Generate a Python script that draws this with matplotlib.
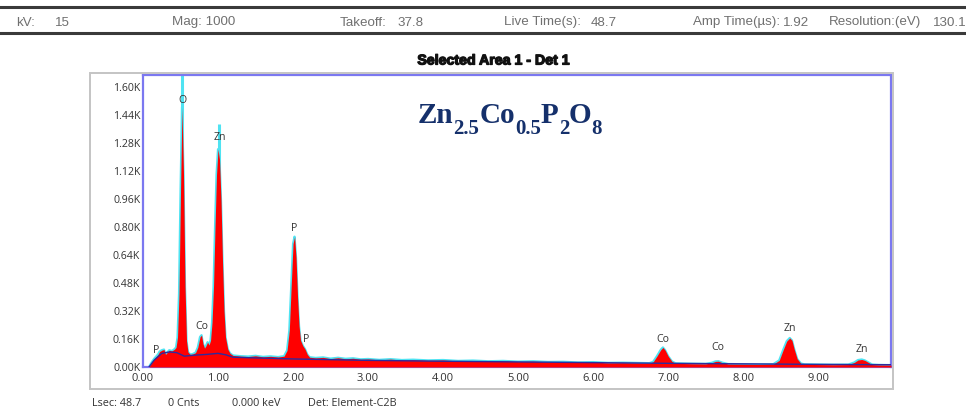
import matplotlib
matplotlib.use("Agg")
import matplotlib.pyplot as plt
from matplotlib.patches import Rectangle
from matplotlib.lines import Line2D
import matplotlib.patheffects as pe

# ---- spectrum (energy in keV, counts) ----
energy = [0.08, 0.10, 0.12, 0.15, 0.18, 0.20, 0.22, 0.25, 0.28, 0.30, 0.32, 0.35, 0.38,
          0.40, 0.42, 0.44, 0.46, 0.48, 0.50, 0.52, 0.54, 0.56, 0.58, 0.60, 0.63, 0.66,
          0.70, 0.73, 0.76, 0.78, 0.80, 0.82, 0.84, 0.86, 0.88, 0.90, 0.92, 0.94, 0.96,
          0.98, 1.00, 1.02, 1.04, 1.06, 1.08, 1.10, 1.13, 1.16, 1.20, 1.30, 1.40, 1.50,
          1.60, 1.70, 1.80, 1.88, 1.92, 1.95, 1.98, 2.00, 2.02, 2.04, 2.06, 2.08, 2.10,
          2.13, 2.16, 2.19, 2.22, 2.30, 2.40, 2.50, 2.60, 2.70, 2.80, 2.90, 3.00, 3.15,
          3.30, 3.45, 3.60, 3.80, 4.00, 4.20, 4.40, 4.60, 4.80, 5.00, 5.20, 5.40, 5.60,
          5.80, 6.00, 6.20, 6.40, 6.60, 6.75, 6.80, 6.85, 6.90, 6.93, 6.96, 7.00, 7.05,
          7.10, 7.30, 7.50, 7.58, 7.63, 7.67, 7.72, 7.80, 8.00, 8.20, 8.40, 8.48, 8.53,
          8.58, 8.62, 8.65, 8.68, 8.72, 8.77, 8.82, 9.00, 9.20, 9.40, 9.48, 9.53, 9.58,
          9.62, 9.67, 9.72, 9.80, 9.97]
counts = [0, 15, 30, 48, 62, 72, 88, 96, 100, 72, 82, 96, 92,
          96, 102, 112, 170, 420, 1000, 1485, 1100, 460, 150, 85, 72, 74,
          82, 112, 172, 182, 132, 108, 122, 142, 126, 152, 255, 460, 800,
          1100, 1245, 1185, 950, 600, 320, 170, 102, 78, 66, 62, 60, 64,
          58, 61, 57, 62, 95, 210, 510, 705, 745, 625, 400, 235, 152,
          122, 102, 72, 56, 52, 55, 48, 53, 47, 50, 44, 46, 41,
          45, 40, 42, 38, 40, 35, 37, 33, 35, 31, 33, 29, 30,
          26, 28, 24, 25, 23, 22, 30, 62, 98, 112, 96, 62, 32,
          21, 19, 18, 24, 32, 33, 25, 17, 16, 15, 16, 38, 95,
          148, 166, 152, 102, 46, 20, 15, 14, 13, 14, 26, 40, 43,
          38, 26, 14, 12, 11]

# continuum fit
bkg_energy = [0.08, 0.15, 0.25, 0.35, 0.45, 0.55, 0.70, 0.85, 1.00, 1.10, 1.20, 1.50,
              2.00, 2.50, 3.00, 4.00, 5.00, 6.00, 7.00, 8.00, 9.00, 9.97]
bkg_counts = [0, 40, 78, 86, 82, 62, 68, 72, 78, 70, 56, 52,
              46, 42, 38, 33, 29, 25, 21, 18, 15, 13]

# peak markers rising above the measured peak
marker_energy = [0.525, 1.012]
marker_top = [1700, 1390]

# element labels (keV, counts)
label_text = ["P", "O", "Co", "Zn", "P", "P", "Co", "Co", "Zn", "Zn"]
label_x = [0.17, 0.52, 0.78, 1.02, 2.01, 2.18, 6.93, 7.66, 8.62, 9.58]
label_y = [95, 1525, 230, 1310, 790, 160, 160, 110, 220, 100]

yticks = [0, 160, 320, 480, 640, 800, 960, 1120, 1280, 1440, 1600]
ytick_labels = ["0.00K", "0.16K", "0.32K", "0.48K", "0.64K", "0.80K", "0.96K",
                "1.12K", "1.28K", "1.44K", "1.60K"]
xticks = [0, 1, 2, 3, 4, 5, 6, 7, 8, 9]
xtick_labels = ["0.00", "1.00", "2.00", "3.00", "4.00", "5.00", "6.00", "7.00",
                "8.00", "9.00"]

# header fields: (text, centre x in px)
header_items = [("kV:", 26), ("15", 62.5), ("Mag: 1000", 204),
                ("Takeoff:", 363.5), ("37.8", 410.5),
                ("Live Time(s):", 543), ("48.7", 603.5),
                ("Amp Time(\u00b5s):", 737), ("1.92", 796.5),
                ("Resolution:(eV)", 875), ("130.1", 950)]
footer_items = [("Lsec: 48.7", 92), ("0 Cnts", 168), ("0.000 keV", 232),
                ("Det: Element-C2B", 308)]

# chemical formula: (text, is_subscript)
formula_parts = [("Zn", False), ("2.5", True), ("Co", False), ("0.5", True),
                 ("P", False), ("2", True), ("O", False), ("8", True)]

W, H = 966, 408
fig = plt.figure(figsize=(W / 100, H / 100), dpi=100)
fig.patch.set_facecolor("white")


def fx(px):
    return px / W


def fy(py):
    return 1 - py / H


# header bar
for yy in (7, 33):
    fig.add_artist(Line2D([0, 1], [fy(yy), fy(yy)], transform=fig.transFigure,
                          color="#3a3a3a", lw=2.2))
for txt, xp in header_items:
    fig.text(fx(xp), fy(25.5), txt, fontsize=9.6, color="#707070",
             family="Liberation Sans", va="baseline", ha="center")

# outer frame
fig.add_artist(Rectangle((fx(90), fy(389)), fx(893) - fx(90), fy(73) - fy(389),
                         transform=fig.transFigure, fill=False,
                         edgecolor="#c4c4c4", lw=1.4))

fig.text(fx(493), fy(60.5), "Selected Area 1 - Det 1", fontsize=10.2,
         fontweight="bold", family="Liberation Sans", ha="center", va="center",
         color="#111111",
         path_effects=[pe.withStroke(linewidth=0.9, foreground="#111111")])

ax = fig.add_axes([fx(143), fy(367), fx(891) - fx(143), fy(75) - fy(367)])
ax.set_xlim(0, 9.97)
ax.set_ylim(0, 1669)

ax.vlines(marker_energy, 0, marker_top, color="#4fe3f2", lw=2.2, zorder=2)
ax.plot(energy, counts, color="#4fe3f2", lw=1.6, zorder=2)
ax.fill_between(energy, 0, counts, color="#ff0000", lw=0, zorder=3)
ax.plot(bkg_energy, bkg_counts, color="#2e2a9e", lw=1.0, zorder=4)

for t, x, y in zip(label_text, label_x, label_y):
    ax.text(x, y, t, fontsize=7.6, family="Open Sans", color="#333333",
            ha="center", va="center", zorder=5)

for s in ax.spines.values():
    s.set_color("#7b78f0")
    s.set_linewidth(1.6)

ax.set_yticks(yticks)
ax.set_yticklabels(ytick_labels)
ax.set_xticks(xticks)
ax.set_xticklabels(xtick_labels)
ax.tick_params(length=0, pad=2, labelsize=7.6, labelcolor="#333333")
ax.tick_params(axis="x", pad=4, labelsize=8)
for lab in ax.get_xticklabels() + ax.get_yticklabels():
    lab.set_family("Open Sans")

for txt, xp in footer_items:
    fig.text(fx(xp), fy(403), txt, fontsize=7.8, color="#333333",
             family="Open Sans", va="center", ha="left")

# formula laid out piece by piece, subscripts dropped below the baseline
renderer = fig.canvas.get_renderer()
cursor = 418.0
base = 123.0
for txt, sub in formula_parts:
    t = fig.text(fx(cursor), fy(base + (11 if sub else 0)), txt,
                 fontsize=15 if sub else 21, fontweight="bold",
                 family="Liberation Serif", color="#15306b",
                 ha="left", va="baseline")
    bb = t.get_window_extent(renderer)
    cursor += bb.width

fig.savefig("out.png", dpi=100)
